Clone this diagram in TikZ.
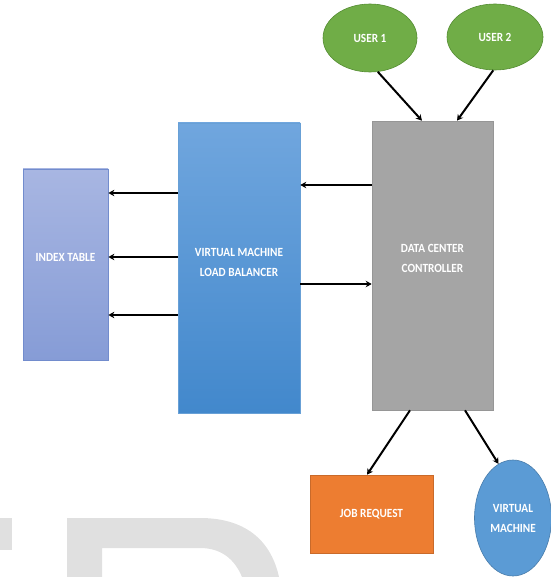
\documentclass[tikz,border=0pt]{standalone}
\usepackage{fontspec}
\setmainfont{Carlito}
\newfontfamily\labfont[FakeStretch=0.9]{Carlito}
\usetikzlibrary{arrows.meta,shapes.geometric,calc}
\definecolor{ugreen}{RGB}{112,173,71}
\definecolor{ugreenb}{RGB}{84,140,50}
\definecolor{dgray}{RGB}{165,165,165}
\definecolor{dgrayb}{RGB}{150,150,150}
\definecolor{lbtop}{RGB}{112,166,222}
\definecolor{lbbot}{RGB}{66,136,204}
\definecolor{idxtop}{RGB}{168,182,226}
\definecolor{idxbot}{RGB}{134,156,214}
\definecolor{idxb}{RGB}{114,140,205}
\definecolor{jorange}{RGB}{237,125,49}
\definecolor{vmblue}{RGB}{91,155,213}
\definecolor{wmark}{RGB}{224,224,224}
\tikzset{
  boxtext/.style={text=white,font=\labfont\fontsize{12.5}{20}\selectfont\bfseries,align=center,inner sep=0pt},
  userell/.style={ellipse,draw=ugreenb,line width=0.6pt,fill=ugreen,boxtext},
  arr/.style={draw=black,line width=2pt,-{Stealth[length=6pt,width=6.5pt]}},
}
\begin{document}
\begin{tikzpicture}[x=1pt,y=-1pt]
\useasboundingbox (0,0) rectangle (550,577);
% watermark
\fill[wmark] (0,518) rectangle (12,550);
\fill[wmark] (67,577) -- (67,518) -- (200,518) .. controls (250,518) and (272,545) .. (279,577) -- (242,577) .. controls (235,560) and (222,548) .. (200,548) -- (102,548) -- (102,577) -- cycle;
% nodes
\node[userell,minimum width=94pt,minimum height=68pt] (u1) at (370,38) {USER 1};
\node[userell,minimum width=96pt,minimum height=66pt] (u2) at (495,37) {USER 2};
\node[rectangle,draw=dgrayb,line width=0.6pt,fill=dgray,minimum width=121pt,minimum height=289pt,boxtext] (dcc) at (432.5,265.5) {};
\node[boxtext] (dcct) at (432.5,258) {DATA CENTER\\CONTROLLER};
\node[rectangle,draw=lbbot!80!white,line width=0.6pt,top color=lbtop,bottom color=lbbot,minimum width=122pt,minimum height=290pt] (lb) at (239,268) {};
\node[boxtext] (lbt) at (239,262) {VIRTUAL MACHINE\\LOAD BALANCER};
\node[rectangle,draw=idxb,line width=0.8pt,top color=idxtop,bottom color=idxbot,minimum width=85pt,minimum height=191pt] (idx) at (65.5,264.5) {};
\node[boxtext] (idxt) at (65.5,257) {INDEX TABLE};
\node[rectangle,draw=jorange!85!black,line width=0.5pt,fill=jorange,minimum width=123pt,minimum height=78pt,boxtext] (job) at (371.5,514) {JOB REQUEST};
\node[ellipse,draw=vmblue!80!black,line width=0.6pt,fill=vmblue,minimum width=77pt,minimum height=116pt,boxtext] (vm) at (513,518) {VIRTUAL\\MACHINE};
% connectors
\draw[arr] (u1.-77) -- ([xshift=-10.5pt]dcc.north);
\draw[arr] (u2.-93) -- ([xshift=24.5pt]dcc.north);
\draw[arr] ([yshift=80.5pt]dcc.west) -- ([yshift=80.5pt]dcc.west -| lb.east);
\draw[arr] ([yshift=-16pt]lb.east) -- ([yshift=-16pt]lb.east -| dcc.west);
\draw[arr] ([yshift=75pt]lb.west) -- ([yshift=75pt]lb.west -| idx.east);
\draw[arr,line width=1.3pt] ([yshift=11pt]lb.west) -- ([yshift=11pt]lb.west -| idx.east);
\draw[arr] ([yshift=-47pt]lb.west) -- ([yshift=-47pt]lb.west -| idx.east);
\draw[arr] ([xshift=-22.5pt]dcc.south) -- ([xshift=-4.5pt]job.north);
\draw[arr] ([xshift=32.5pt]dcc.south) -- (vm.105);
\end{tikzpicture}
\end{document}
